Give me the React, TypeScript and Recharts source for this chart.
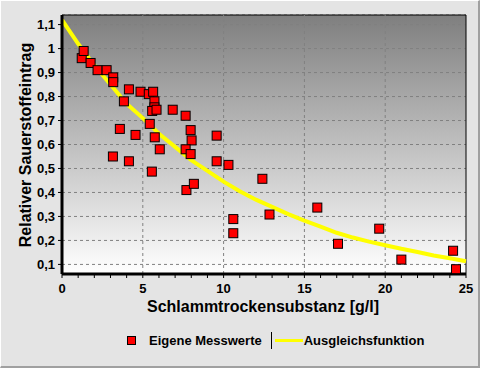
import {
  ComposedChart,
  CartesianGrid,
  Line,
  ReferenceArea,
  ReferenceLine,
  Scatter,
  XAxis,
  YAxis,
} from 'recharts';

// Eigene Messwerte (x in g/l, y relativ)
const messX = [
  1.22, 1.34, 1.77, 2.2, 2.76, 3.17, 3.17, 4.14, 3.83, 4.86, 5.37, 5.64, 5.72, 5.72, 5.58,
  5.85, 6.85, 7.65, 3.58, 5.43, 4.55, 5.74, 7.96, 6.05, 8.02, 7.65, 7.96, 9.57, 3.15, 4.14,
  9.57, 10.3, 5.56, 7.7, 8.16, 10.6, 10.6, 12.4, 12.84, 15.8, 17.08, 19.63, 21.0, 24.2, 24.38,
];
const messY = [
  0.96, 0.99, 0.94, 0.91, 0.91, 0.88, 0.86, 0.83, 0.78, 0.82, 0.81, 0.82, 0.78, 0.755, 0.74,
  0.745, 0.745, 0.72, 0.665, 0.686, 0.64, 0.63, 0.66, 0.58, 0.617, 0.58, 0.56, 0.637, 0.55, 0.53,
  0.53, 0.515, 0.487, 0.41, 0.436, 0.289, 0.23, 0.457, 0.308, 0.337, 0.186, 0.249, 0.12, 0.157, 0.08,
];

// Ausgleichsfunktion
const fitX = [0, 1, 2, 3, 4, 5, 6, 7, 8, 9, 10, 11, 12, 13, 14, 15, 16, 17, 18, 19, 20, 21, 22, 23, 24, 25];
const fitY = [
  1.12, 1.02, 0.93, 0.85, 0.77, 0.71, 0.645, 0.59, 0.535, 0.49, 0.445, 0.405, 0.37, 0.34, 0.31,
  0.283, 0.258, 0.232, 0.212, 0.195, 0.18, 0.165, 0.152, 0.137, 0.126, 0.113,
];

const xTicks = [0, 1, 2, 3, 4, 5, 6, 7, 8, 9, 10, 11, 12, 13, 14, 15, 16, 17, 18, 19, 20, 21, 22, 23, 24, 25];
const xGrid = [5, 10, 15, 20];
const yTicks = [0.1, 0.2, 0.3, 0.4, 0.5, 0.6, 0.7, 0.8, 0.9, 1, 1.1];

const messData = messX.map((x, i) => ({ x, y: messY[i] }));
const fitData = fitX.map((x, i) => ({ x, y: fitY[i] }));

const FONT = '"Liberation Sans", Arial, sans-serif';

function SquareDot(props: any) {
  const { cx, cy } = props;
  if (cx == null || cy == null) return null;
  return <rect x={cx - 4.5} y={cy - 4.5} width={9} height={9} fill="#ff0000" stroke="#000" strokeWidth={1} />;
}

function XTick(props: any) {
  const { x, y, payload } = props;
  const major = payload.value % 5 === 0;
  return (
    <g>
      <line x1={x} x2={x} y1={y} y2={y + 4} stroke="#000" strokeWidth={1} />
      {major && (
        <text x={x} y={y + 19} textAnchor="middle" fontFamily={FONT} fontWeight="bold" fontSize={13} fill="#000">
          {payload.value}
        </text>
      )}
    </g>
  );
}

function YLabel() {
  return (
    <text
      x={0}
      y={0}
      transform="translate(31, 145) rotate(-90)"
      textAnchor="middle"
      fontFamily={FONT}
      fontWeight="bold"
      fontSize={16}
      fill="#000"
    >
      Relativer Sauerstoffeintrag
    </text>
  );
}

function XLabel() {
  return (
    <text x={263} y={312} textAnchor="middle" fontFamily={FONT} fontWeight="bold" fontSize={16} fill="#000">
      Schlammtrockensubstanz [g/l]
    </text>
  );
}

export default function App() {
  return (
    <div
      style={{
        position: 'absolute',
        left: 0,
        top: 0,
        width: 480,
        height: 368,
        boxSizing: 'border-box',
        background: '#e4e4e4',
        borderTop: '1px solid #ffffff',
        borderLeft: '1px solid #ffffff',
        borderRight: '2px solid #a0a0a0',
        borderBottom: '2px solid #a0a0a0',
        fontFamily: FONT,
      }}
    >
      <div style={{ position: 'absolute', left: -1, top: -1 }}>
        <ComposedChart width={480} height={368} margin={{ top: 15, right: 14, bottom: 64, left: 0 }}>
          <defs>
            <linearGradient id="plotBg" x1="0" y1="0" x2="0" y2="1">
              <stop offset="0%" stopColor="#7f7f7f" />
              <stop offset="100%" stopColor="#ffffff" />
            </linearGradient>
          </defs>
          <CartesianGrid
            vertical={false}
            fill="url(#plotBg)"
            fillOpacity={1}
            stroke="#808080"
            strokeDasharray="3 3"
          />
          {xGrid.map((v) => (
            <ReferenceLine key={v} x={v} stroke="#808080" strokeDasharray="3 3" />
          ))}
          <XAxis
            dataKey="x"
            type="number"
            domain={[0, 25]}
            ticks={xTicks}
            interval={0}
            tick={<XTick />}
            tickLine={false}
            tickSize={0}
            tickMargin={0}
            axisLine={{ stroke: '#000', strokeWidth: 3 }}
            height={30}
            label={<XLabel />}
          />
          <YAxis
            dataKey="y"
            type="number"
            domain={[0.06, 1.14]}
            ticks={yTicks}
            interval={0}
            allowDataOverflow
            tickFormatter={(v: number) => String(v).replace('.', ',')}
            tick={{ fill: '#000', fontSize: 13, fontWeight: 'bold', fontFamily: FONT }}
            tickLine={{ stroke: '#000' }}
            tickSize={4}
            tickMargin={3}
            axisLine={{ stroke: '#000', strokeWidth: 3 }}
            width={62}
            label={<YLabel />}
          />
          <ReferenceArea x1={0} x2={25} y1={0.06} y2={1.14} fill="none" fillOpacity={0} stroke="#000" strokeWidth={1} />
          <Line
            data={fitData}
            dataKey="y"
            type="linear"
            stroke="#ffff00"
            strokeWidth={4}
            dot={false}
            activeDot={false}
            isAnimationActive={false}
          />
          <Scatter data={messData} dataKey="y" shape={<SquareDot />} isAnimationActive={false} />
        </ComposedChart>
      </div>
      <div
        style={{
          position: 'absolute',
          left: 126,
          top: 330,
          height: 18,
          display: 'flex',
          alignItems: 'center',
          fontSize: 13,
          fontWeight: 'bold',
          color: '#000',
          whiteSpace: 'nowrap',
        }}
      >
        <span style={{ width: 7, height: 7, background: '#ff0000', border: '1px solid #000', marginRight: 13 }} />
        <span>Eigene Messwerte</span>
        <span style={{ width: 1, height: 17, background: '#000', marginLeft: 9, marginRight: 3 }} />
        <span style={{ width: 28, height: 3, background: '#ffff00', marginRight: 1 }} />
        <span>Ausgleichsfunktion</span>
      </div>
    </div>
  );
}
